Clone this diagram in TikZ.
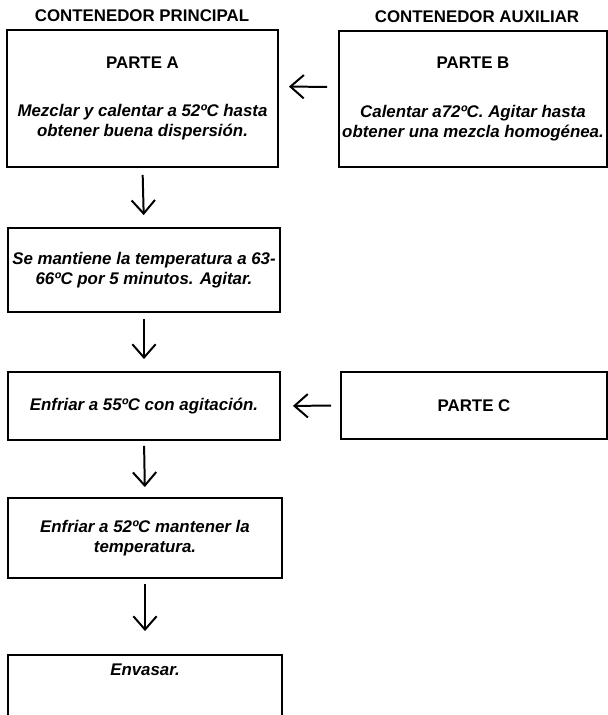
\documentclass[tikz,border=0pt]{standalone}
\usepackage{fontspec}
\setmainfont{Liberation Sans}
\usetikzlibrary{arrows.meta}
\newcommand{\paso}[1]{\textit{#1}}

\begin{document}
\begin{tikzpicture}[x=0.03cm,y=-0.03cm,
  font=\fontsize{14.4}{17}\selectfont\bfseries,
  caja/.style={draw,line width=1.6pt,align=center,inner sep=0pt},
  flecha/.style={line width=1.7pt,-{Straight Barb[length=4mm,width=7mm,line width=1.7pt]}}]

 \useasboundingbox (0,0) rectangle (608,715);

 \node (tprin) at (142,16) {CONTENEDOR PRINCIPAL};
 \node (taux) at (477,17) {CONTENEDOR AUXILIAR};

 \node[caja,minimum width=8.13cm,minimum height=4.11cm] (parteA) at (142.5,98.5)
   {PARTE A\\[0.85cm]\paso{Mezclar y calentar a 52ºC hasta}\\\paso{obtener buena dispersión.}};
 \node[caja,minimum width=8.04cm,minimum height=4.08cm] (parteB) at (473,99)
   {PARTE B\\[0.85cm]\paso{Calentar a72ºC. Agitar hasta}\\\paso{obtener una mezcla homogénea.}};
 \node[caja,minimum width=8.16cm,minimum height=2.52cm] (mant) at (144,270)
   {\paso{Se mantiene la temperatura a 63-}\\\paso{66ºC por 5 minutos. Agitar.}};
 \node[caja,minimum width=8.16cm,minimum height=2.04cm] (enf55) at (144,406)
   {\paso{Enfriar a 55ºC con agitación.}};
 \node[caja,minimum width=7.98cm,minimum height=2.01cm] (parteC) at (474,405.5)
   {PARTE C};
 \node[caja,minimum width=8.22cm,minimum height=2.4cm] (enf52) at (145,538)
   {\paso{Enfriar a 52ºC mantener la}\\\paso{temperatura.}};
 \node[caja,minimum width=8.22cm,minimum height=2.4cm] (envasar) at (145,695)
   {\paso{Envasar.}\\[0.9cm]\mbox{}};

 \draw[flecha,shorten <=0.33cm,shorten >=0.3cm] ([yshift=0.36cm]parteB.west) -- ([yshift=0.36cm]parteA.east);
 \draw[flecha,shorten <=0.27cm,shorten >=0.36cm] (parteC.west) -- (enf55.east);
 \draw[flecha,shorten <=0.21cm,shorten >=0.36cm] (parteA.south) -- (mant.north);
 \draw[flecha,shorten <=0.18cm,shorten >=0.36cm] (mant.south) -- (enf55.north);
 \draw[flecha,shorten <=0.15cm,shorten >=0.3cm] (enf55.south) -- (enf52.north);
 \draw[flecha,shorten <=0.15cm,shorten >=0.69cm] (enf52.south) -- (envasar.north);

\end{tikzpicture}
\end{document}
